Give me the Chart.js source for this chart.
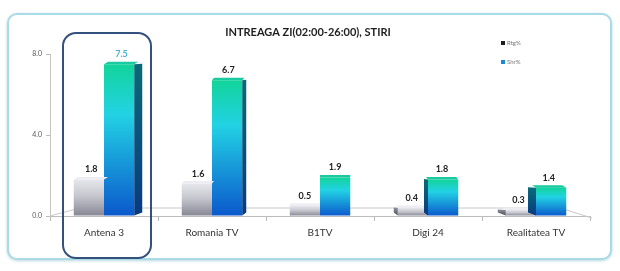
<!DOCTYPE html>
<html><head><meta charset="utf-8">
<script src="https://cdn.jsdelivr.net/npm/chart.js@4.4.1/dist/chart.umd.min.js"></script>
<style>
html,body{margin:0;padding:0;background:#fff;}
#wrap{position:relative;width:620px;height:271px;overflow:hidden;background:#fff;}
#frame{position:absolute;left:7px;top:13px;width:601px;height:243px;border:2px solid #a9dbe6;border-radius:10px;box-shadow:0 1px 3px rgba(120,180,200,0.5);background:#fff;}
canvas{position:absolute;left:0;top:0;}
</style></head><body>
<div id="wrap"><div id="frame"></div><canvas id="c" width="620" height="271"></canvas></div>
<script>
const TITLE = "INTREAGA ZI(02:00-26:00), STIRI";
const categories = ["Antena 3", "Romania TV", "B1TV", "Digi 24", "Realitatea TV"];
const seriesNames = ["Rtg%", "Shr%"];
const rtg = [1.8, 1.6, 0.5, 0.4, 0.3];
const shr = [7.5, 6.7, 1.9, 1.8, 1.4];
const yTicks = [0, 4, 8];
const highlightIndex = 0;

const FONT = "Lato, 'Open Sans', sans-serif";

function depth(i){ return (2 - i) * 4; }

function barFill(ctx){
  const chart = ctx.chart;
  const y = chart.scales && chart.scales.y;
  if (!y || ctx.raw === undefined) return ctx.datasetIndex === 0 ? '#b8b8c2' : '#1aa0e0';
  const top = y.getPixelForValue(ctx.raw);
  const base = y.getPixelForValue(0);
  if (!isFinite(top) || !isFinite(base) || top === base) return ctx.datasetIndex === 0 ? '#b8b8c2' : '#1aa0e0';
  const g = chart.ctx.createLinearGradient(0, top, 0, base);
  if (ctx.datasetIndex === 0){
    g.addColorStop(0, '#e6e6ec'); g.addColorStop(0.45, '#c6c6ce'); g.addColorStop(1, '#868694');
  } else {
    g.addColorStop(0, '#12d49a'); g.addColorStop(0.33, '#22d2e4'); g.addColorStop(1, '#0b58cc');
  }
  return g;
}

const deco = {
  id: 'deco',
  beforeDatasetsDraw(chart){
    const c = chart.ctx, a = chart.chartArea;
    c.save();
    c.strokeStyle = '#c9c9c9'; c.lineWidth = 1;
    c.beginPath();
    c.moveTo(a.left, a.bottom);
    c.lineTo(a.left + 30, a.bottom - 8);
    c.lineTo(a.right - 30, a.bottom - 8);
    c.lineTo(a.right + 2, a.bottom + 2);
    c.stroke();
    c.restore();
  },
  afterDatasetsDraw(chart){
    const c = chart.ctx, a = chart.chartArea;
    const xs = chart.scales.x, ys = chart.scales.y;
    c.save();
    // 3D faces
    [0, 1].forEach(di => {
      const meta = chart.getDatasetMeta(di);
      meta.data.forEach((el, i) => {
        const dx = depth(i);
        const w = el.width, x1 = el.x - w/2, x2 = el.x + w/2, top = el.y, base = el.base;
        // top face
        c.fillStyle = di === 0 ? '#ececf2' : '#19c9a0';
        c.beginPath();
        c.moveTo(x1, top); c.lineTo(x1 + dx*0.5, top - 2.5); c.lineTo(x2 + dx*0.5, top - 2.5); c.lineTo(x2, top);
        c.closePath(); c.fill();
        // side face
        if (dx !== 0 && !(di === 0 && dx > 0)){
          const g = c.createLinearGradient(0, top, 0, base);
          if (di === 0){ g.addColorStop(0, '#8c8c98'); g.addColorStop(1, '#50505c'); }
          else { g.addColorStop(0, '#0a6a78'); g.addColorStop(1, '#083a80'); }
          c.fillStyle = g;
          c.beginPath();
          const ex = dx > 0 ? x2 : x1;
          c.moveTo(ex, top - 2.5*0 ); c.lineTo(ex + dx, top - 2.5 + 2); c.lineTo(ex + dx, base - 3); c.lineTo(ex, base);
          c.closePath(); c.fill();
        }
      });
    });
    // value labels
    [0, 1].forEach(di => {
      const meta = chart.getDatasetMeta(di);
      const vals = chart.data.datasets[di].data;
      meta.data.forEach((el, i) => {
        c.font = 'bold 9px ' + FONT;
        c.textAlign = 'center'; c.textBaseline = 'middle';
        c.fillStyle = (di === 1 && i === highlightIndex) ? '#48b0d4' : '#222';
        c.fillText(vals[i].toFixed(1), el.x + depth(i)*0.3, el.y - 10);
      });
    });
    // highlight box
    const cx = xs.getPixelForValue(highlightIndex) + 3;
    const bx = cx - 44, bw = 88, by = 33, bh = 225, r = 13;
    c.strokeStyle = '#34507c'; c.lineWidth = 2;
    c.beginPath();
    c.roundRect(bx, by, bw, bh, r);
    c.stroke();
    // title
    c.font = 'bold 11px ' + FONT;
    c.fillStyle = '#1e1e1e'; c.textAlign = 'center'; c.textBaseline = 'middle';
    c.fillText(TITLE, 308, 32);
    // legend
    const legCols = ['#1e1e1e', '#1a8ad4'];
    seriesNames.forEach((n, k) => {
      const ly = 43 + k*19;
      c.fillStyle = legCols[k];
      c.fillRect(501, ly - 2, 4, 4);
      c.fillStyle = '#777'; c.font = '6px ' + FONT; c.textAlign = 'left';
      c.fillText(n, 507, ly);
    });
    c.restore();
  }
};

new Chart(document.getElementById('c'), {
  type: 'bar',
  data: {
    labels: categories,
    datasets: [
      { label: seriesNames[0], data: rtg, backgroundColor: barFill, borderWidth: 0 },
      { label: seriesNames[1], data: shr, backgroundColor: barFill, borderWidth: 0 }
    ]
  },
  options: {
    responsive: false, animation: false,
    layout: { padding: { top: 54, right: 30, bottom: 20, left: 0 } },
    datasets: { bar: { categoryPercentage: 0.56, barPercentage: 1.0 } },
    plugins: { legend: { display: false }, tooltip: { enabled: false }, title: { display: false } },
    scales: {
      x: {
        afterFit(s){ s.height = 35; },
        grid: { display: true, drawOnChartArea: false, tickLength: 5, color: '#bbb' },
        border: { color: '#bdbdbd' },
        ticks: { color: '#333', font: { family: FONT, size: 10 }, padding: 6, maxRotation: 0 }
      },
      y: {
        min: 0, max: 8,
        afterFit(s){ s.width = 50; },
        afterBuildTicks(s){ s.ticks = yTicks.map(v => ({ value: v })); },
        grid: { display: true, drawOnChartArea: false, tickLength: 4, color: '#bbb' },
        border: { color: '#c4c4c4' },
        ticks: { color: '#555', font: { family: FONT, size: 7 }, padding: 4, callback: v => Number(v).toFixed(1) }
      }
    }
  },
  plugins: [deco]
});
</script>
</body></html>
